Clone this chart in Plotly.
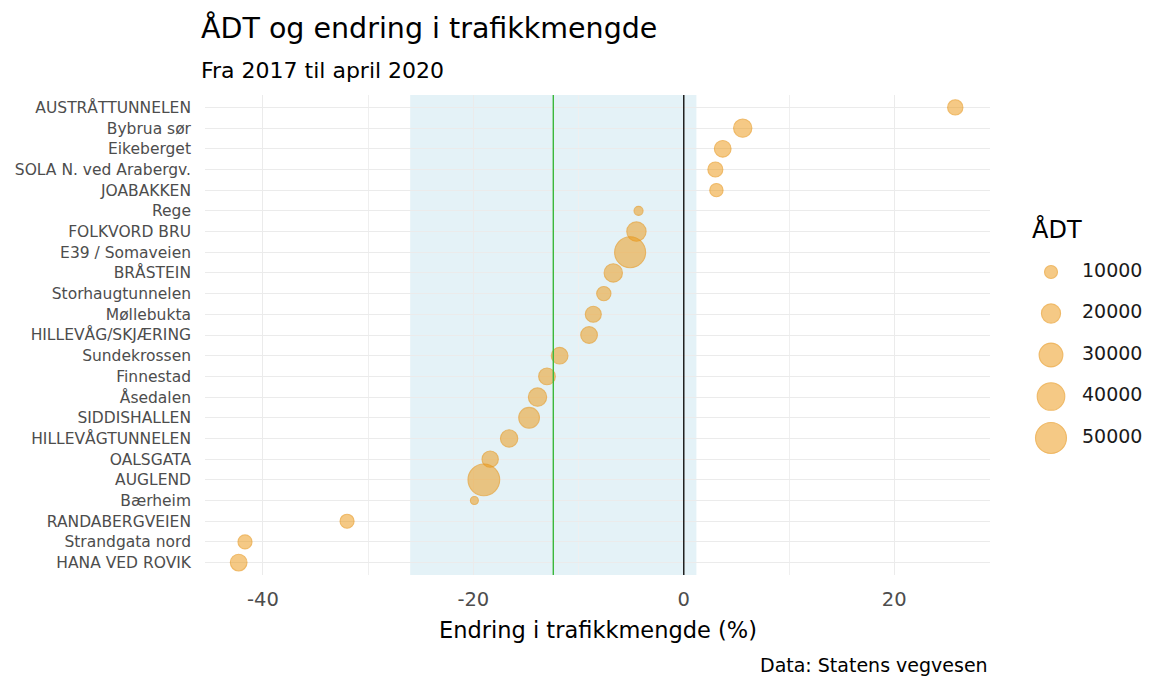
import numpy as np
import plotly.graph_objects as go

# ---------------- data ----------------
stations = ["AUSTRÅTTUNNELEN", "Bybrua sør", "Eikeberget", "SOLA N. ved Arabergv.",
            "JOABAKKEN", "Rege", "FOLKVORD BRU", "E39 / Somaveien", "BRÅSTEIN",
            "Storhaugtunnelen", "Møllebukta", "HILLEVÅG/SKJÆRING", "Sundekrossen",
            "Finnestad", "Åsedalen", "SIDDISHALLEN", "HILLEVÅGTUNNELEN", "OALSGATA",
            "AUGLEND", "Bærheim", "RANDABERGVEIEN", "Strandgata nord", "HANA VED ROVIK"]
change_pct = [25.8, 5.6, 3.7, 3.0, 3.1, -4.3, -4.5, -5.1, -6.7, -7.6, -8.6, -9.0, -11.8,
              -13.0, -13.9, -14.7, -16.6, -18.4, -19.0, -19.9, -32.0, -41.7, -42.3]
adt = [13300, 18400, 15500, 12800, 10400, 5600, 20300, 50000, 18400, 11800, 14400, 15500,
       15500, 15500, 18400, 23100, 16600, 14900, 52200, 4700, 11400, 11400, 15500]
legend_values = [10000, 20000, 30000, 40000, 50000]
mean_change = -12.4
band_low = -26.0
band_high = 1.2
x_tick_values = [-40, -20, 0, 20]

title = "ÅDT og endring i trafikkmengde"
subtitle = "Fra 2017 til april 2020"
x_title = "Endring i trafikkmengde (%)"
caption = "Data: Statens vegvesen"
legend_title = "ÅDT"

# ---------------- styling ----------------
FONT = "DejaVu Sans, Liberation Sans, Arial, sans-serif"
W, H = 1157, 679
ML, MT, MB = 205, 95, 104
PANEL_R = 990
PW = W - ML
PH = H - MT - MB

def px_x(p):
    return (p - ML) / PW

def px_y(p):
    return (H - MB - p) / PH

def diam(v):
    v = np.asarray(v, dtype=float)
    area = 169 + 792 * (v - 10000) / 40000
    return np.sqrt(np.clip(area, 30, None))

fill = "rgba(236,152,22,0.74)"
edge = "rgba(230,146,18,0.85)"

fig = go.Figure()

fig.add_trace(go.Scatter(
    x=change_pct, y=stations, mode="markers",
    marker=dict(size=diam(adt), color=fill, line=dict(color=edge, width=1.1)),
    showlegend=False, xaxis="x", yaxis="y",
))

# manual size legend
idx = list(range(len(legend_values)))
fig.add_trace(go.Scatter(
    x=[0] * len(legend_values), y=idx, mode="markers",
    marker=dict(size=diam(legend_values), color=fill, line=dict(color=edge, width=1.1)),
    showlegend=False, xaxis="x2", yaxis="y2", hoverinfo="skip",
))
fig.add_trace(go.Scatter(
    x=[1] * len(legend_values), y=idx, mode="text",
    text=[str(v) for v in legend_values], textposition="middle right",
    textfont=dict(family=FONT, size=19, color="#1a1a1a"),
    showlegend=False, xaxis="x2", yaxis="y2", hoverinfo="skip",
))

n = len(stations)
fig.update_layout(
    width=W, height=H,
    margin=dict(l=ML, r=0, t=MT, b=MB),
    paper_bgcolor="white", plot_bgcolor="white",
    font=dict(family=FONT, color="#4d4d4d"),
    xaxis=dict(
        domain=[0, px_x(PANEL_R)], range=[-45.5, 29.1],
        tickvals=x_tick_values, ticktext=[str(v) for v in x_tick_values],
        tickfont=dict(size=19.5, color="#4d4d4d"),
        showgrid=True, gridcolor="#ebebeb", gridwidth=1.1,
        minor=dict(dtick=10, tick0=0, showgrid=True, gridcolor="#efefef", gridwidth=0.7),
        zeroline=False, showline=False, ticks="", ticklabelstandoff=10,
    ),
    yaxis=dict(
        type="category", categoryorder="array", categoryarray=stations,
        range=[n - 1 + 0.6, -0.6],
        tickfont=dict(size=15.5, color="#4d4d4d"),
        showgrid=True, gridcolor="#ebebeb", gridwidth=1.1,
        zeroline=False, showline=False, ticks="", ticklabelstandoff=13,
    ),
    xaxis2=dict(domain=[px_x(1000), 1], range=[-51 / 31, 106 / 31],
                visible=False, anchor="y2"),
    yaxis2=dict(domain=[0, 1], range=[(575 - 272) / 41.5, (95 - 272) / 41.5],
                visible=False, anchor="x2"),
    shapes=[
        dict(type="rect", xref="x", yref="y domain", x0=band_low, x1=band_high, y0=0, y1=1,
             fillcolor="rgba(173,216,230,0.33)", line=dict(width=0), layer="below"),
        dict(type="line", xref="x", yref="y domain", x0=mean_change, x1=mean_change, y0=0, y1=1,
             line=dict(color="#3cb83c", width=1.4)),
        dict(type="line", xref="x", yref="y domain", x0=0, x1=0, y0=0, y1=1,
             line=dict(color="black", width=1.3)),
    ],
    annotations=[
        dict(text=title, xref="paper", yref="paper", x=px_x(199), y=px_y(28),
             xanchor="left", yanchor="middle", showarrow=False,
             font=dict(family=FONT, size=28.5, color="black")),
        dict(text=subtitle, xref="paper", yref="paper", x=px_x(199), y=px_y(70),
             xanchor="left", yanchor="middle", showarrow=False,
             font=dict(family=FONT, size=22, color="black")),
        dict(text=x_title, xref="paper", yref="paper", x=px_x((ML + PANEL_R) / 2), y=px_y(630),
             xanchor="center", yanchor="middle", showarrow=False,
             font=dict(family=FONT, size=22.5, color="black")),
        dict(text=caption, xref="paper", yref="paper", x=px_x(PANEL_R), y=px_y(665),
             xanchor="right", yanchor="middle", showarrow=False,
             font=dict(family=FONT, size=19, color="black")),
        dict(text=legend_title, xref="paper", yref="paper", x=px_x(1030), y=px_y(229),
             xanchor="left", yanchor="middle", showarrow=False,
             font=dict(family=FONT, size=24, color="black")),
    ],
)

fig.write_html("out.html", config={"displayModeBar": False},
               post_script="document.body.style.margin='0';")
